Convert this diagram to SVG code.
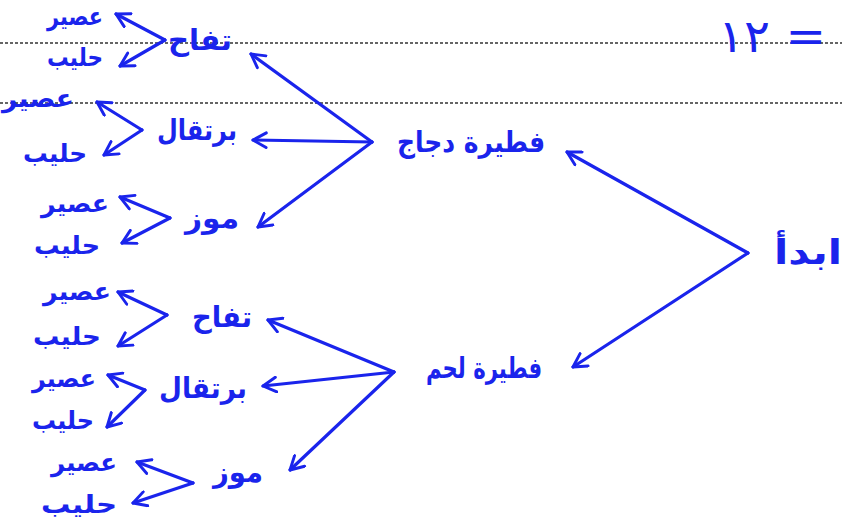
<svg xmlns="http://www.w3.org/2000/svg" width="842" height="524" viewBox="0 0 842 524">
<style>
.bg{fill:#ffffff}
.rule{stroke:#333;stroke-width:1.6;stroke-dasharray:3 2;fill:none}
.c{stroke:#1a24ec;stroke-width:3.2;fill:none;stroke-linecap:round;stroke-linejoin:round;marker-end:url(#ah)}
.t{font-family:"DejaVu Sans",sans-serif;fill:#1a24ec;text-anchor:middle;font-weight:bold}
.big{font-size:29px}
.sm{font-size:25px}
</style>
<defs>
<marker id="ah" viewBox="0 0 12 12" refX="10" refY="6" markerWidth="5.5" markerHeight="5.5" orient="auto" markerUnits="strokeWidth">
<path d="M1,1 L10,6 L1,11" fill="none" stroke="#1a24ec" stroke-width="2" stroke-linecap="round" stroke-linejoin="round"/>
</marker>
</defs>
<rect class="bg" x="0" y="0" width="842" height="524"/>
<line class="rule" x1="0" y1="43" x2="842" y2="43"/>
<line class="rule" x1="0" y1="103" x2="842" y2="103"/>
<text class="t" x="772" y="52" style="font-size:46px;font-weight:normal" direction="ltr" textLength="108" lengthAdjust="spacingAndGlyphs">١٢ =</text>

<g id="connectors">
<path class="c" d="M748,253 L567,152"/>
<path class="c" d="M748,253 L573,367"/>
<path class="c" d="M372,142 L251,54"/>
<path class="c" d="M372,142 L253,140"/>
<path class="c" d="M372,142 L258,227"/>
<path class="c" d="M394,372 L268,320"/>
<path class="c" d="M394,372 L263,386"/>
<path class="c" d="M394,372 L290,470"/>
<path class="c" d="M165,40 L116,14"/>
<path class="c" d="M165,40 L120,66"/>
<path class="c" d="M142,130 L97,102"/>
<path class="c" d="M142,130 L104,155"/>
<path class="c" d="M170,218 L120,197"/>
<path class="c" d="M170,218 L122,243"/>
<path class="c" d="M167,315 L118,292"/>
<path class="c" d="M167,315 L118,346"/>
<path class="c" d="M145,390 L108,375"/>
<path class="c" d="M145,390 L107,427"/>
<path class="c" d="M193,483 L137,462"/>
<path class="c" d="M193,483 L133,503"/>
</g>

<g id="start"><text class="t" x="808" y="264" style="font-size:34px" textLength="68" lengthAdjust="spacingAndGlyphs">ابدأ</text></g>
<g id="chicken-pie"><text class="t big" x="471" y="152" textLength="148" lengthAdjust="spacingAndGlyphs">فطيرة دجاج</text></g>
<g id="meat-pie"><text class="t big" x="484" y="378" textLength="116" lengthAdjust="spacingAndGlyphs">فطيرة لحم</text></g>

<g id="apple-1"><text class="t big" x="200" y="50" textLength="64" lengthAdjust="spacingAndGlyphs">تفاح</text></g>
<g id="juice-1"><text class="t sm" x="75" y="25" textLength="56" lengthAdjust="spacingAndGlyphs">عصير</text></g>
<g id="milk-1"><text class="t sm" x="75" y="66" textLength="56" lengthAdjust="spacingAndGlyphs">حليب</text></g>

<g id="orange-1"><text class="t big" x="197" y="140" textLength="80" lengthAdjust="spacingAndGlyphs">برتقال</text></g>
<g id="juice-2"><text class="t sm" x="38" y="107" textLength="72" lengthAdjust="spacingAndGlyphs">عصير</text></g>
<g id="milk-2"><text class="t sm" x="55" y="162" textLength="64" lengthAdjust="spacingAndGlyphs">حليب</text></g>

<g id="banana-1"><text class="t big" x="212" y="228" textLength="54" lengthAdjust="spacingAndGlyphs">موز</text></g>
<g id="juice-3"><text class="t sm" x="75" y="212" textLength="68" lengthAdjust="spacingAndGlyphs">عصير</text></g>
<g id="milk-3"><text class="t sm" x="67" y="254" textLength="66" lengthAdjust="spacingAndGlyphs">حليب</text></g>

<g id="apple-2"><text class="t big" x="222" y="327" textLength="60" lengthAdjust="spacingAndGlyphs">تفاح</text></g>
<g id="juice-4"><text class="t sm" x="77" y="300" textLength="68" lengthAdjust="spacingAndGlyphs">عصير</text></g>
<g id="milk-4"><text class="t sm" x="67" y="345" textLength="68" lengthAdjust="spacingAndGlyphs">حليب</text></g>

<g id="orange-2"><text class="t big" x="203" y="398" textLength="88" lengthAdjust="spacingAndGlyphs">برتقال</text></g>
<g id="juice-5"><text class="t sm" x="64" y="387" textLength="64" lengthAdjust="spacingAndGlyphs">عصير</text></g>
<g id="milk-5"><text class="t sm" x="63" y="429" textLength="62" lengthAdjust="spacingAndGlyphs">حليب</text></g>

<g id="banana-2"><text class="t big" x="238" y="482" textLength="50" lengthAdjust="spacingAndGlyphs">موز</text></g>
<g id="juice-6"><text class="t sm" x="84" y="471" textLength="66" lengthAdjust="spacingAndGlyphs">عصير</text></g>
<g id="milk-6"><text class="t sm" x="79" y="513" textLength="76" lengthAdjust="spacingAndGlyphs">حليب</text></g>
</svg>
